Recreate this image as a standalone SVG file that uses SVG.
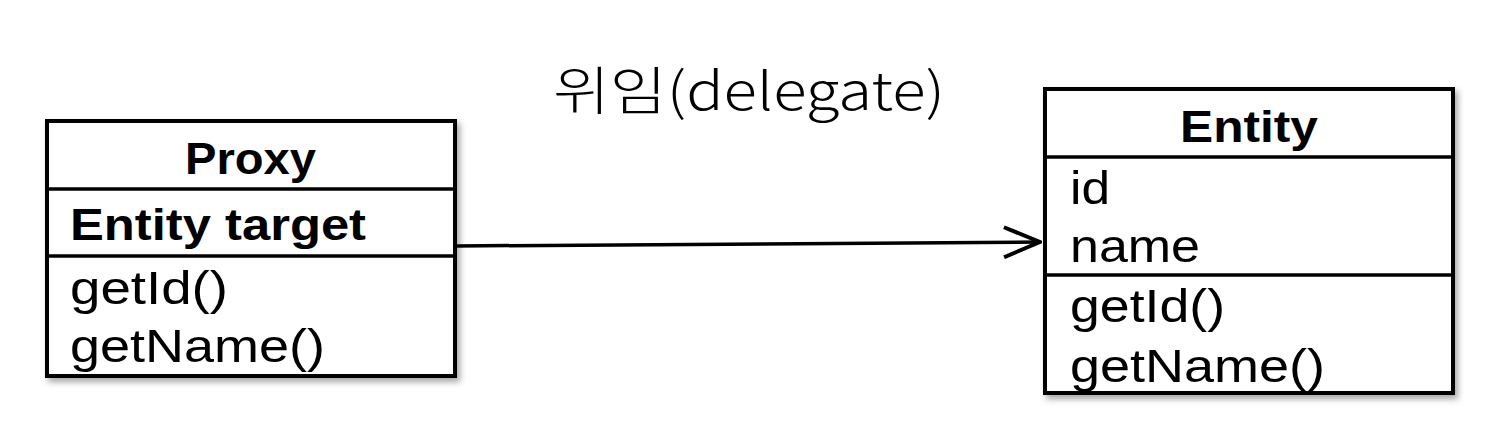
<svg xmlns="http://www.w3.org/2000/svg" width="1510" height="441" viewBox="0 0 1510 441">
<style>
.box{fill:#fff;stroke:#000;stroke-width:4}
.div{stroke:#000;stroke-width:3.5}
.t{font-family:"Liberation Sans","Noto Sans CJK KR",sans-serif;fill:#000}
.b{font-weight:700;font-size:45px}
.r{font-weight:400;font-size:46px}
.conn{stroke:#000;stroke-width:3.5;fill:none}
</style>
<defs>
<filter id="sh" x="-10%" y="-10%" width="125%" height="125%">
<feDropShadow dx="3" dy="4" stdDeviation="3" flood-color="#000" flood-opacity="0.35"/>
</filter>
<marker id="open" viewBox="0 0 40 34" refX="38" refY="17" markerWidth="40" markerHeight="34" markerUnits="userSpaceOnUse" orient="auto">
<path d="M2,2 L38,17 L2,32" fill="none" stroke="#000" stroke-width="4"/>
</marker>
</defs>
<g id="title">
<text x="553" y="110" font-family="Noto Sans CJK KR, sans-serif" font-size="52" font-weight="300" textLength="392" lengthAdjust="spacingAndGlyphs">위임(delegate)</text>
</g>
<g id="proxy">
<rect class="box" x="47" y="121" width="408" height="255" filter="url(#sh)"/>
<line class="div" x1="47" y1="189" x2="455" y2="189"/>
<line class="div" x1="47" y1="256" x2="455" y2="256"/>
<text class="t b" x="185" y="174" textLength="131" lengthAdjust="spacingAndGlyphs">Proxy</text>
<text class="t b" x="70" y="240" textLength="296" lengthAdjust="spacingAndGlyphs">Entity target</text>
<text class="t r" x="70" y="304" textLength="158" lengthAdjust="spacingAndGlyphs">getId()</text>
<text class="t r" x="70" y="362" textLength="255" lengthAdjust="spacingAndGlyphs">getName()</text>
</g>
<g id="entity">
<rect class="box" x="1045" y="89" width="408" height="304" filter="url(#sh)"/>
<line class="div" x1="1045" y1="157" x2="1453" y2="157"/>
<line class="div" x1="1045" y1="275" x2="1453" y2="275"/>
<text class="t b" x="1180" y="142" textLength="138" lengthAdjust="spacingAndGlyphs">Entity</text>
<text class="t r" x="1070" y="204" textLength="40" lengthAdjust="spacingAndGlyphs">id</text>
<text class="t r" x="1070" y="262" textLength="130" lengthAdjust="spacingAndGlyphs">name</text>
<text class="t r" x="1070" y="322" textLength="155" lengthAdjust="spacingAndGlyphs">getId()</text>
<text class="t r" x="1070" y="382" textLength="255" lengthAdjust="spacingAndGlyphs">getName()</text>
</g>
<g id="connectors">
<path class="conn" d="M455,246 L1040,242" marker-end="url(#open)"/>
</g>
</svg>
